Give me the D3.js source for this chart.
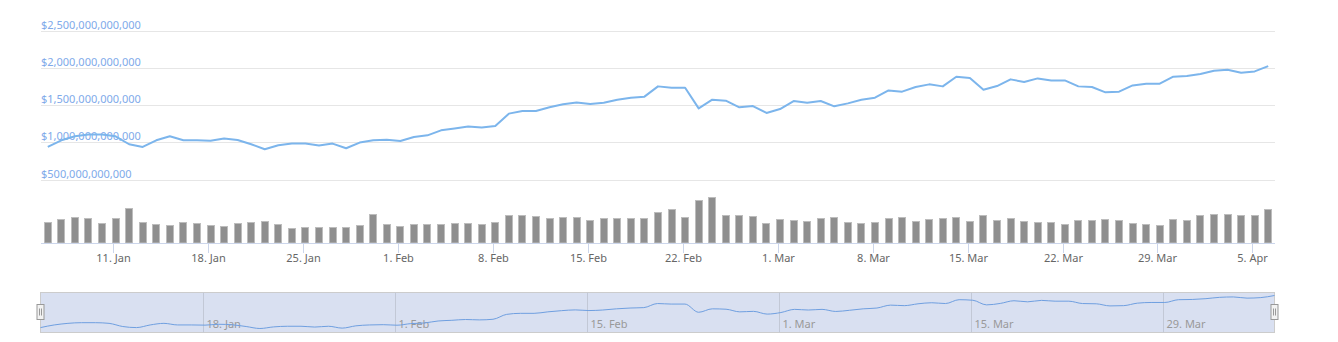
<!DOCTYPE html>
<html>
<head>
<meta charset="utf-8">
<script src="https://cdn.jsdelivr.net/npm/d3@7"></script>
<style>
  body { margin: 0; background: #fff; }
  svg { display: block; font-family: "Noto Sans", sans-serif; }
</style>
</head>
<body>
<svg id="chart"></svg>
<script>
// daily points, starting 6 Jan 2021
const startDate = "2021-01-06";

// total market cap, trillions USD
const marketCap = [
  0.937, 1.026, 1.08, 1.103, 1.103, 1.08, 0.973, 0.937, 1.026, 1.08,
  1.026, 1.026, 1.02, 1.049, 1.03, 0.973, 0.906, 0.96, 0.982, 0.982,
  0.955, 0.982, 0.919, 0.996, 1.026, 1.035, 1.017, 1.071, 1.093, 1.16,
  1.183, 1.21, 1.197, 1.218, 1.384, 1.419, 1.419, 1.469, 1.509, 1.535,
  1.513, 1.531, 1.571, 1.598, 1.612, 1.75, 1.732, 1.732, 1.455, 1.571,
  1.558, 1.469, 1.486, 1.393, 1.446, 1.553, 1.531, 1.553, 1.482, 1.522,
  1.571, 1.598, 1.696, 1.679, 1.741, 1.777, 1.75, 1.88, 1.861, 1.705,
  1.754, 1.844, 1.808, 1.857, 1.83, 1.83, 1.75, 1.741, 1.67, 1.679,
  1.763, 1.786, 1.786, 1.88, 1.888, 1.915, 1.96, 1.973, 1.933, 1.951,
  2.022
];

// 24h volume, billions USD
const volume = [
  166, 190, 206, 198, 158, 198, 278, 166, 150, 142,
  166, 158, 142, 134, 158, 166, 174, 150, 118, 126,
  126, 126, 126, 142, 230, 150, 134, 150, 150, 150,
  158, 158, 150, 166, 222, 222, 214, 198, 206, 206,
  182, 198, 198, 198, 198, 246, 270, 206, 342, 366,
  222, 222, 214, 158, 190, 182, 174, 198, 206, 166,
  158, 166, 198, 206, 174, 190, 198, 206, 174, 222,
  182, 198, 174, 166, 166, 150, 182, 182, 190, 182,
  158, 150, 142, 190, 182, 222, 230, 230, 222, 222,
  270
];

const priceTicks = [0.5, 1, 1.5, 2, 2.5];
const dateTicks = ["2021-01-11", "2021-01-18", "2021-01-25", "2021-02-01", "2021-02-08",
  "2021-02-15", "2021-02-22", "2021-03-01", "2021-03-08", "2021-03-15",
  "2021-03-22", "2021-03-29", "2021-04-05"];
const navTicks = ["2021-01-18", "2021-02-01", "2021-02-15", "2021-03-01", "2021-03-15", "2021-03-29"];

const W = 1338, H = 342;
const left = 41, right = 1275;
const DAY = 864e5;
const t0 = new Date(startDate + "T04:00:00Z").getTime();

const data = marketCap.map((v, i) => ({
  date: new Date(t0 + i * DAY),
  cap: v * 1e12,
  vol: volume[i]
}));

const svg = d3.select("#chart").attr("width", W).attr("height", H);

const x = d3.scaleUtc()
  .domain([new Date(t0 - DAY / 2), new Date(t0 + (data.length - 0.5) * DAY)])
  .range([left, right]);

const y = d3.scaleLinear().domain([0.5e12, 2.5e12]).range([179.5, 30.5]);
const yVol = d3.scaleLinear().domain([0, 400]).range([243, 193]);

const money = d3.format("$,.0f");
const dayFmt = d3.utcFormat("%-d. %b");
const parse = s => new Date(s + "T00:00:00Z");

// price gridlines + labels
const yAxis = svg.append("g");
priceTicks.forEach(t => {
  const yy = Math.round(y(t * 1e12)) + 0.5;
  yAxis.append("line")
    .attr("x1", left).attr("x2", right)
    .attr("y1", yy).attr("y2", yy)
    .attr("stroke", "#e6e6e6");
  yAxis.append("text")
    .attr("x", left)
    .attr("y", yy - 3)
    .attr("font-size", 11)
    .attr("fill", "#80aaea")
    .text(money(t * 1e12));
});

// price line
svg.append("path")
  .datum(data)
  .attr("fill", "none")
  .attr("stroke", "#7cb5ec")
  .attr("stroke-width", 2)
  .attr("stroke-linejoin", "round")
  .attr("d", d3.line().x(d => x(d.date)).y(d => y(d.cap)));

// volume bars
svg.append("g").selectAll("rect")
  .data(data)
  .join("rect")
  .attr("x", d => Math.round(x(d.date)) - 3.5)
  .attr("y", d => Math.round(yVol(d.vol)) + 0.5)
  .attr("width", 7)
  .attr("height", d => yVol(0) - Math.round(yVol(d.vol)) - 0.5)
  .attr("fill", "#8f8f8f")
  .attr("stroke", "#bdbdbd")
  .attr("stroke-width", 1);

// x axis
const xAxis = svg.append("g");
xAxis.append("line")
  .attr("x1", left).attr("x2", right)
  .attr("y1", 243.5).attr("y2", 243.5)
  .attr("stroke", "#ccd6eb");
dateTicks.map(parse).forEach(d => {
  const xx = Math.round(x(d)) + 0.5;
  xAxis.append("line")
    .attr("x1", xx).attr("x2", xx)
    .attr("y1", 243.5).attr("y2", 253)
    .attr("stroke", "#ccd6eb");
  xAxis.append("text")
    .attr("x", xx)
    .attr("y", 262)
    .attr("text-anchor", "middle")
    .attr("font-size", 11)
    .attr("fill", "#666")
    .text(dayFmt(d));
});

// navigator
const navTop = 292.5, navBottom = 332.5;
const xNav = d3.scaleUtc()
  .domain([data[0].date, data[data.length - 1].date])
  .range([40.5, 1274.5]);
const yNav = d3.scaleLinear()
  .domain(d3.extent(data, d => d.cap))
  .range([navBottom - 4, navTop + 3]);

const nav = svg.append("g");
nav.append("rect")
  .attr("x", 40.5).attr("y", navTop)
  .attr("width", 1234).attr("height", navBottom - navTop)
  .attr("fill", "#d9e0f1")
  .attr("stroke", "#cccccc");

navTicks.map(parse).forEach(d => {
  const xx = Math.round(xNav(d)) + 0.5;
  nav.append("line")
    .attr("x1", xx).attr("x2", xx)
    .attr("y1", navTop).attr("y2", navBottom)
    .attr("stroke", "#c2c8d6");
  nav.append("text")
    .attr("x", xx + 3)
    .attr("y", 328)
    .attr("font-size", 11)
    .attr("fill", "#999")
    .text(dayFmt(d));
});

nav.append("path")
  .datum(data)
  .attr("fill", "none")
  .attr("stroke", "#6f9fe0")
  .attr("stroke-width", 1)
  .attr("d", d3.line().curve(d3.curveMonotoneX).x(d => xNav(d.date)).y(d => yNav(d.cap)));

// handles
[40.5, 1274.5].forEach(hx => {
  const h = nav.append("g").attr("transform", `translate(${Math.round(hx) - 4},304.5)`);
  h.append("rect")
    .attr("width", 7).attr("height", 15)
    .attr("fill", "#f2f2f2").attr("stroke", "#999");
  h.append("path")
    .attr("d", "M2.5,4 V11 M4.5,4 V11")
    .attr("stroke", "#999");
});
</script>
</body>
</html>
